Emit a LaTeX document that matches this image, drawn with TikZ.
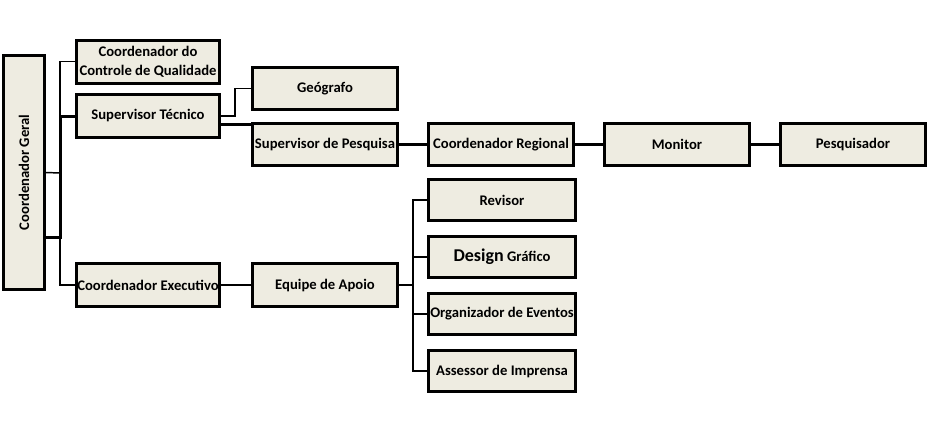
\documentclass[tikz,border=0pt]{standalone}
\usepackage{fontspec}
\setmainfont{Carlito}
\usetikzlibrary{positioning}
\definecolor{boxfill}{HTML}{EEECE1}
\tikzset{
  orgbox/.style={rectangle, draw=black, line width=2.25pt, fill=boxfill, minimum width=108.75pt, minimum height=32.25pt, text centered, inner sep=0pt, font=\bfseries\fontsize{11}{13}\selectfont},
  colbox/.style={orgbox, minimum width=110pt, minimum height=30.75pt},
  thickline/.style={line width=2.25pt},
  thinline/.style={line width=1.1pt}
}

\begin{document}
\begin{tikzpicture}[x=0.75pt, y=-0.75pt, node distance=21pt]
    \useasboundingbox (0,0) rectangle (929,430);
    \node (geral) [orgbox, minimum width=30.75pt, minimum height=175.5pt] at (24,172.5) {\rotatebox{90}{Coordenador Geral}};
    \node (qualidade) [orgbox, minimum width=107.25pt, align=center, font=\bfseries\fontsize{11}{14}\selectfont] at (148,61.5) {Coordenador do\\Controle de Qualidade};
    \node (tecnico) [orgbox, minimum width=107.25pt] at (148,116) {Supervisor Técnico};
    \node (executivo) [orgbox, minimum width=107.25pt] at (148,285) {Coordenador Executivo};
    \node (geografo) [orgbox, minimum height=31.5pt] at (325,88.5) {Geógrafo};
    \node (pesquisa) [orgbox, minimum height=31.5pt] at (325,144.5) {Supervisor de Pesquisa};
    \node (regional) [orgbox, minimum height=31.5pt, right=of pesquisa] {Coordenador Regional};
    \node (monitor) [orgbox, minimum height=31.5pt, right=of regional] {Monitor};
    \node (pesquisador) [orgbox, minimum height=31.5pt, right=of monitor] {Pesquisador};
    \node (apoio) [orgbox] at (325,285) {Equipe de Apoio};
    \node (revisor) [colbox] at (502,200) {Revisor};
    \node (design) [colbox, below=9.75pt of revisor] {{\fontsize{13.5}{15}\selectfont Design} Gráfico};
    \node (eventos) [colbox, below=9.75pt of design] {Organizador de Eventos};
    \node (imprensa) [colbox, below=9.75pt of eventos] {Assessor de Imprensa};

    % buses from the Coordenador Geral
    \coordinate (busg) at (60,173);
    \draw[thinline] (geral.east) -- (busg);
    \draw[thinline] (qualidade.west) -| (busg) |- (executivo.west);
    \draw[thickline] (geral.east |- 0,237) -| (busg) |- (tecnico.west);

    % technical branch
    \draw[thinline] (tecnico.east) -- ++(14,0) |- (geografo.west);
    \draw[thickline] (tecnico.east |- 0,124) -- (pesquisa.west |- 0,124);
    \draw[thickline] (pesquisa) -- (regional);
    \draw[thickline] (regional) -- (monitor);
    \draw[thickline] (monitor) -- (pesquisador);

    % executive branch
    \coordinate (busa) at (413,285);
    \draw[thinline] (executivo) -- (apoio);
    \draw[thinline] (apoio) -- (busa);
    \draw[thinline] (revisor.west) -| (busa) |- (imprensa.west);
    \draw[thinline] (design.west) -- (design.west -| busa);
    \draw[thinline] (eventos.west) -- (eventos.west -| busa);
  \end{tikzpicture}
\end{document}
